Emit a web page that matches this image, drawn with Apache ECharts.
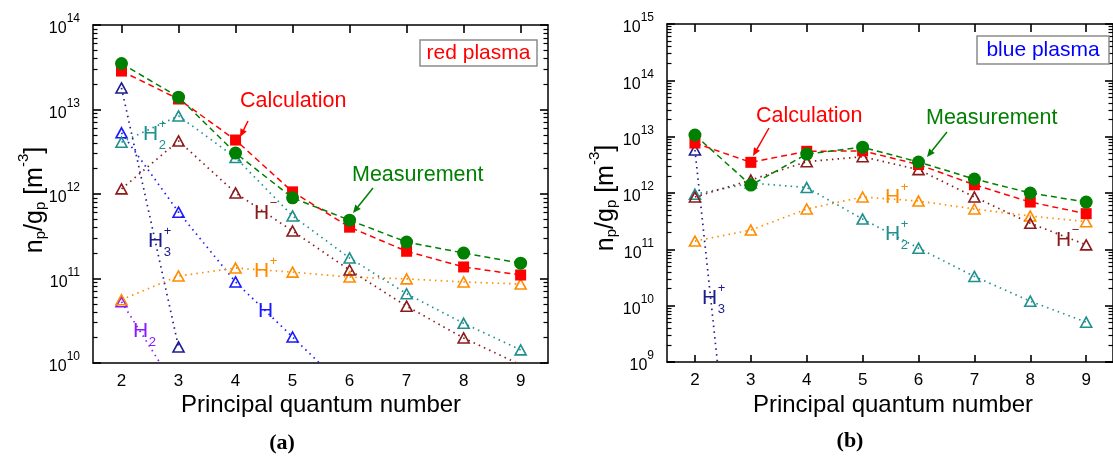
<!DOCTYPE html>
<html><head><meta charset="utf-8">
<script src="https://cdn.jsdelivr.net/npm/echarts@6/dist/echarts.min.js"></script>
<style>html,body{margin:0;padding:0;background:#fff}#c{width:1113px;height:456px}</style>
</head><body><div id="c"></div>
<script>
// ---------- data ----------
const nAll = [2, 3, 4, 5, 6, 7, 8, 9];
const xTickValues = [2, 3, 4, 5, 6, 7, 8, 9];
const yRangeA = [1e10, 1e14];
const yRangeB = [1e9, 1e15];

// (a) red plasma
const measA = [3.5e13, 1.4e13, 3.05e12, 9.0e11, 4.9e11, 2.7e11, 2.0e11, 1.52e11];
const calcA = [2.85e13, 1.33e13, 4.35e12, 1.06e12, 4.05e11, 2.1e11, 1.37e11, 1.1e11];
const h2pA  = [4.1e12, 8.4e12, 2.7e12, 5.5e11, 1.75e11, 6.6e10, 2.95e10, 1.43e10];
const hmA   = [1.15e12, 4.25e12, 1.03e12, 3.65e11, 1.26e11, 4.7e10, 1.98e10, 9.5e9];
const hpA   = [5.6e10, 1.07e11, 1.33e11, 1.19e11, 1.04e11, 9.9e10, 9.1e10, 8.6e10];
const h3pA  = [1.8e13, 1.55e10];
const hA    = [5.3e12, 6.1e11, 9.1e10, 2.03e10, 4.5e9];
const h2A   = [5.3e10, 4.5e9];

// (b) blue plasma
const measB = [1.07e13, 1.38e12, 4.9e12, 6.5e12, 3.55e12, 1.77e12, 1.0e12, 6.9e11];
const calcB = [7.7e12, 3.5e12, 5.5e12, 5.6e12, 3.2e12, 1.4e12, 6.9e11, 4.3e11];
const hmB   = [8.5e11, 1.7e12, 3.6e12, 4.4e12, 2.6e12, 8.5e11, 2.9e11, 1.2e11];
const h2pB  = [9.5e11, 1.5e12, 1.25e12, 3.45e11, 1.05e11, 3.3e10, 1.2e10, 5.1e9];
const hpB   = [1.4e11, 2.2e11, 5.2e11, 8.5e11, 7.2e11, 5.2e11, 3.9e11, 3.1e11];
const h3pB  = [5.8e12, 2.5e3];

// ---------- styling ----------
const FONT = 'Liberation Sans';
const C = {
  red: '#ff0000', green: '#008000', teal: '#1f8f8f', dred: '#8b1a1a',
  orange: '#ff8c00', navy: '#1c1c8c', blue: '#1a1aff', purple: '#8a1aff'
};
const XMIN = 1.5, XMAX = 9.48;

function pairs(xs, ys) { return ys.map((v, i) => [xs[i], v]); }

const grids = [
  { left: 93, top: 25, width: 455, height: 338 },
  { left: 667, top: 24, width: 455, height: 338 }
];

const axisLineStyle = { show: true, lineStyle: { color: '#000', width: 1.5 } };
function xAxesFor(gi, bottomTicks) {
  const base = { gridIndex: gi, type: 'value', min: XMIN, max: XMAX, splitLine: { show: false },
    axisLine: axisLineStyle };
  return [
    Object.assign({}, base, { position: 'bottom',
      axisTick: { show: bottomTicks, inside: true, length: 7, customValues: xTickValues, lineStyle: { color: '#000', width: 1.6 } },
      axisLabel: { customValues: xTickValues, margin: 10, fontSize: 17, fontFamily: FONT, color: '#000' } }),
    Object.assign({}, base, { position: 'top',
      axisTick: { show: true, inside: true, length: 8, customValues: xTickValues, lineStyle: { color: '#000', width: 1.6 } },
      axisLabel: { show: false } })
  ];
}

function yAxesFor(gi, range) {
  const decades = Math.round(Math.log10(range[1] / range[0]));
  const base = { gridIndex: gi, type: 'log', logBase: 10, min: range[0], max: range[1],
    splitNumber: decades, splitLine: { show: false }, axisLine: axisLineStyle,
    axisTick: { show: true, inside: true, length: 8, lineStyle: { color: '#000', width: 1.6 } },
    minorTick: { show: true, splitNumber: 9, length: 4.5, lineStyle: { color: '#000', width: 1.2 } } };
  const rich = {
    b: { fontSize: 16, lineHeight: 24, fontFamily: FONT, color: '#000', verticalAlign: 'bottom' },
    s: { fontSize: 12, lineHeight: 12, fontFamily: FONT, color: '#000', verticalAlign: 'top' }
  };
  return [
    Object.assign({}, base, { position: 'left',
      axisLabel: { margin: 13, showMinLabel: true, showMaxLabel: true,
        formatter: v => '{b|10}{s|' + Math.round(Math.log10(v)) + '}', rich: rich } }),
    Object.assign({}, base, { position: 'right', axisLabel: { show: false } })
  ];
}

function species(gi, ys, color) {
  return {
    type: 'line', xAxisIndex: gi * 2, yAxisIndex: gi * 2, data: pairs(nAll, ys),
    symbol: 'triangle', symbolSize: [11, 10], z: 2,
    lineStyle: { color: color, width: 1.7, type: [1.5, 4.2] },
    itemStyle: { color: 'rgba(255,255,255,0)', borderColor: color, borderWidth: 1.6 },
    animation: false, silent: true
  };
}
function calcSeries(gi, ys) {
  return {
    type: 'line', xAxisIndex: gi * 2, yAxisIndex: gi * 2, data: pairs(nAll, ys),
    symbol: 'rect', symbolSize: 11, z: 5,
    lineStyle: { color: C.red, width: 1.5, type: [6, 4] },
    itemStyle: { color: C.red }, animation: false, silent: true
  };
}
function measSeries(gi, ys) {
  return {
    type: 'line', xAxisIndex: gi * 2, yAxisIndex: gi * 2, data: pairs(nAll, ys),
    symbol: 'circle', symbolSize: 13, z: 6,
    lineStyle: { color: C.green, width: 1.5, type: [6, 4] },
    itemStyle: { color: C.green }, animation: false, silent: true
  };
}

// ---------- annotations ----------
function txt(x, y, text, color, fs, extra) {
  return Object.assign({ type: 'text', x: x, y: y, z: 100,
    style: Object.assign({ text: text, fill: color, fontSize: fs, fontFamily: FONT, verticalAlign: 'middle', align: 'left' }, extra || {}) });
}
function chem(x, y, color, sub, sup, fs) {
  fs = fs || 21;
  const els = [txt(x, y, 'H', color, fs)];
  const ox = x + fs * 0.722 + 0.5;
  if (sub) els.push(txt(ox, y + fs * 0.52, sub, color, fs * 0.62));
  if (sup) els.push(txt(ox, y - fs * 0.47, sup, color, fs * 0.62));
  return els;
}
function arrow(x1, y1, x2, y2, color) {
  const a = Math.atan2(y2 - y1, x2 - x1), L = 8, W = 3.5;
  const bx = x2 - L * Math.cos(a), by = y2 - L * Math.sin(a);
  return [
    { type: 'line', z: 100, shape: { x1: x1, y1: y1, x2: bx, y2: by }, style: { stroke: color, lineWidth: 1.5 } },
    { type: 'polygon', z: 100, shape: { points: [[x2, y2],
      [bx + W * Math.sin(a), by - W * Math.cos(a)], [bx - W * Math.sin(a), by + W * Math.cos(a)]] },
      style: { fill: color } }
  ];
}
function boxLabel(x, y, w, h, text, color) {
  return [
    { type: 'rect', z: 99, shape: { x: x, y: y, width: w, height: h }, style: { fill: '#fff', stroke: '#8c8c8c', lineWidth: 1.5 } },
    txt(x + w / 2, y + h / 2 + 0.5, text, color, 21, { align: 'center' })
  ];
}
function yTitle(x, y) {
  return { type: 'text', x: x, y: y, rotation: Math.PI / 2, z: 100,
    style: { text: '{n|n}{sb|p}{n|/g}{sb|p}{n| [m}{sp|-3}{n|]}', align: 'center', verticalAlign: 'middle',
      rich: {
        n: { fontSize: 25, lineHeight: 32, fontFamily: FONT, fill: '#000', verticalAlign: 'bottom' },
        sb: { fontSize: 15, lineHeight: 15, fontFamily: FONT, fill: '#000', verticalAlign: 'bottom' },
        sp: { fontSize: 15, lineHeight: 15, fontFamily: FONT, fill: '#000', verticalAlign: 'top' }
      } } };
}

const annotations = [].concat(
  // panel (a)
  txt(240, 101, 'Calculation', C.red, 21.5),
  arrow(248, 121, 240, 137, C.red),
  txt(352, 175, 'Measurement', C.green, 21.5),
  arrow(373, 188, 353, 213, C.green),
  boxLabel(420, 40, 117, 26, 'red plasma', C.red),
  chem(143, 134, C.teal, '2', '+'),
  chem(148, 241, C.navy, '3', '+'),
  chem(133, 331, C.purple, '2', null),
  chem(254, 271, C.orange, null, '+'),
  chem(254, 213, C.dred, null, '\u2212'),
  chem(258, 311, C.blue, null, null),
  txt(321, 405, 'Principal quantum number', '#000', 24, { align: 'center' }),
  yTitle(32, 200),
  txt(282, 443, '(a)', '#000', 22, { align: 'center', fontFamily: 'Liberation Serif', fontWeight: 'bold' }),
  // panel (b)
  txt(756, 116, 'Calculation', C.red, 21.5),
  arrow(769, 128, 753, 156, C.red),
  txt(926, 118, 'Measurement', C.green, 21.5),
  arrow(947, 132, 927, 157, C.green),
  boxLabel(977, 36, 132, 28, 'blue plasma', '#0000ff'),
  chem(885, 197, C.orange, null, '+'),
  chem(885, 234, C.teal, '2', '+'),
  chem(1056, 240, C.dred, null, '\u2212'),
  chem(702, 298, C.navy, '3', '+'),
  txt(893, 405, 'Principal quantum number', '#000', 24, { align: 'center' }),
  yTitle(603, 198),
  txt(850, 441, '(b)', '#000', 22, { align: 'center', fontFamily: 'Liberation Serif', fontWeight: 'bold' })
);

const option = {
  backgroundColor: '#fff',
  animation: false,
  grid: grids,
  xAxis: [].concat(xAxesFor(0, false), xAxesFor(1, true)),
  yAxis: [].concat(yAxesFor(0, yRangeA), yAxesFor(1, yRangeB)),
  series: [
    species(0, h2A, C.purple), species(0, hA, C.blue), species(0, h3pA, C.navy),
    species(0, hpA, C.orange), species(0, hmA, C.dred), species(0, h2pA, C.teal),
    calcSeries(0, calcA), measSeries(0, measA),
    species(1, h3pB, C.navy), species(1, hpB, C.orange), species(1, h2pB, C.teal),
    species(1, hmB, C.dred),
    calcSeries(1, calcB), measSeries(1, measB)
  ],
  graphic: annotations
};
const chart = echarts.init(document.getElementById('c'), null, { renderer: 'canvas' });
chart.setOption(option);
</script></body></html>
